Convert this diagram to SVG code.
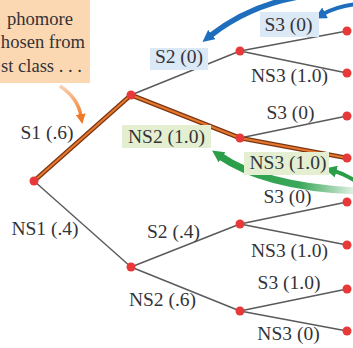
<svg xmlns="http://www.w3.org/2000/svg" width="353" height="348" viewBox="0 0 353 348">
<defs>
<style>
.t{font-family:"Liberation Serif","Times New Roman",serif;font-size:19.5px;fill:#333338;text-anchor:middle}
.c{font-family:"Liberation Serif","Times New Roman",serif;font-size:18.6px;fill:#333338;text-anchor:end}
.e{stroke:#5a5a5a;stroke-width:1.4;fill:none}
.hi1{stroke:#7a3512;stroke-width:4.6;fill:none;stroke-linejoin:round}
.hi2{stroke:#e8772e;stroke-width:2.2;fill:none;stroke-linejoin:round}
.n{fill:#e8393a}
.bb{fill:#dbe8f5}
.gb{fill:#e3efd0}
</style>
<marker id="ab" viewBox="0 -5 10 10" refX="2" refY="0" markerWidth="12" markerHeight="12" markerUnits="userSpaceOnUse" orient="auto"><path d="M0,-5 L10,0 L0,5 z" fill="#1f6dbd"/></marker>
<marker id="ag" viewBox="0 -5 10 10" refX="2" refY="0" markerWidth="12" markerHeight="12" markerUnits="userSpaceOnUse" orient="auto"><path d="M0,-5 L10,0 L0,5 z" fill="#2a9e48"/></marker>
<marker id="ao" viewBox="0 -5 10 10" refX="2" refY="0" markerWidth="10" markerHeight="10" markerUnits="userSpaceOnUse" orient="auto"><path d="M0,-5 L10,0 L0,5 z" fill="#ee7a26"/></marker>
<linearGradient id="gg" gradientUnits="userSpaceOnUse" x1="230" y1="0" x2="356" y2="0">
<stop offset="0" stop-color="#2a9e48"/><stop offset="0.55" stop-color="#3aa85a"/><stop offset="1" stop-color="#2a9e48" stop-opacity="0.1"/>
</linearGradient>
<linearGradient id="og" gradientUnits="userSpaceOnUse" x1="0" y1="86" x2="0" y2="118">
<stop offset="0" stop-color="#ee7a26" stop-opacity="0.35"/><stop offset="1" stop-color="#ee7a26"/>
</linearGradient>
</defs>

<g id="callout">
<rect x="-2" y="-2" width="92" height="85" fill="#fcd8b2"/>
<text class="c" x="73" y="25">phomore</text>
<text class="c" x="85" y="48">hosen from</text>
<text class="c" x="82" y="72">st class . . .</text>
</g>

<g id="connectors">
<path class="e" d="M34,181 L131,267"/>
<path class="e" d="M131,95 L240,51"/>
<path class="e" d="M131,267 L240,224 M131,267 L240,311"/>
<path class="e" d="M240,51 L347,31 M240,51 L347,73"/>
<path class="e" d="M240,138 L347,116"/>
<path class="e" d="M240,224 L347,202 M240,224 L347,245"/>
<path class="e" d="M240,311 L347,289 M240,311 L347,331"/>
<path class="hi1" d="M34,181 L131,95 L240,138 L347,158"/>
<path class="hi2" d="M34,181 L131,95 L240,138 L347,158"/>
</g>

<g id="arrows">
<path d="M298,-3 Q248,6 210,36" stroke="#1f6dbd" stroke-width="5.5" fill="none" marker-end="url(#ab)"/>
<path d="M357,4 Q338,6 323,14" stroke="#1f6dbd" stroke-width="4" fill="none" marker-end="url(#ab)"/>
<path d="M357,191 Q265,187 220,156" stroke="url(#gg)" stroke-width="7" fill="none" marker-end="url(#ag)"/>
<path d="M357,182 Q345,174 334,171" stroke="#2a9e48" stroke-width="4" fill="none" marker-end="url(#ag)"/>
<path d="M60,86 Q78,98 81,116" stroke="url(#og)" stroke-width="3.5" fill="none" marker-end="url(#ao)"/>
</g>

<g id="root"><circle class="n" cx="34" cy="181" r="4.5"/></g>
<g id="s1"><circle class="n" cx="131" cy="95" r="4.5"/><text class="t" x="47" y="139">S1 (.6)</text></g>
<g id="ns1"><circle class="n" cx="131" cy="267" r="4.5"/><text class="t" x="45" y="235">NS1 (.4)</text></g>
<g id="s1s2"><circle class="n" cx="240" cy="51" r="4.5"/><rect class="bb" x="150" y="48" width="58" height="22"/><text class="t" x="179" y="63">S2 (0)</text></g>
<g id="s1ns2"><circle class="n" cx="240" cy="138" r="4.5"/><rect class="gb" x="122" y="125" width="89" height="23"/><text class="t" x="166.5" y="143">NS2 (1.0)</text></g>
<g id="ns1s2"><circle class="n" cx="240" cy="224" r="4.5"/><text class="t" x="173.5" y="238">S2 (.4)</text></g>
<g id="ns1ns2"><circle class="n" cx="240" cy="311" r="4.5"/><text class="t" x="162.5" y="306">NS2 (.6)</text></g>
<g id="leaf1"><circle class="n" cx="347" cy="31" r="4.5"/><rect class="bb" x="260" y="12" width="59" height="25"/><text class="t" x="288.5" y="31">S3 (0)</text></g>
<g id="leaf2"><circle class="n" cx="347" cy="73" r="4.5"/><text class="t" x="289.5" y="82">NS3 (1.0)</text></g>
<g id="leaf3"><circle class="n" cx="347" cy="116" r="4.5"/><text class="t" x="290.5" y="119">S3 (0)</text></g>
<g id="leaf4"><circle class="n" cx="347" cy="158" r="4.5"/><rect class="gb" x="244" y="152" width="85" height="23"/><text class="t" x="288" y="169">NS3 (1.0)</text></g>
<g id="leaf5"><circle class="n" cx="347" cy="202" r="4.5"/><text class="t" x="287.5" y="203">S3 (0)</text></g>
<g id="leaf6"><circle class="n" cx="347" cy="245" r="4.5"/><text class="t" x="289.5" y="257">NS3 (1.0)</text></g>
<g id="leaf7"><circle class="n" cx="347" cy="289" r="4.5"/><text class="t" x="289" y="289">S3 (1.0)</text></g>
<g id="leaf8"><circle class="n" cx="347" cy="331" r="4.5"/><text class="t" x="288.5" y="340">NS3 (0)</text></g>
</svg>
